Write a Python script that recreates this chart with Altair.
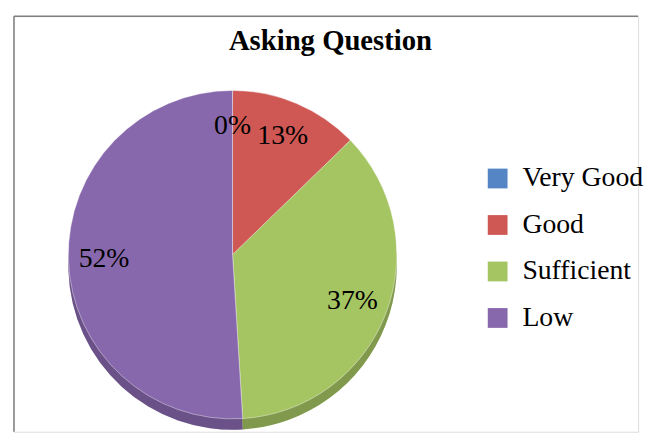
import altair as alt
import pandas as pd

categories = ["Very Good", "Good", "Sufficient", "Low"]
values = [0, 13, 37, 52]
labels = ["0%", "13%", "37%", "52%"]
title_text = ["Asking Question"]

face_colors = ["#5585C4", "#CF5854", "#A5C462", "#8868AD"]

SERIF = "Tinos"

df = pd.DataFrame({
    "category": categories,
    "value": values,
    "label": labels,
    "idx": list(range(len(categories))),
})
tdf = pd.DataFrame({"t": title_text})

W, H = 631, 420
CX, CY, R = 221, 241, 166
DEPTH = 11

color = alt.Color(
    "category:N",
    scale=alt.Scale(domain=categories, range=face_colors),
    legend=alt.Legend(
        title=None,
        orient="none",
        legendX=475,
        legendY=150,
        symbolType="square",
        symbolSize=400,
        symbolStrokeWidth=0,
        labelFont=SERIF,
        labelFontSize=28,
        labelLimit=300,
        labelOffset=11,
        rowPadding=19,
        padding=0,
    ),
)

base = alt.Chart(df).encode(
    theta=alt.Theta("value:Q", stack=True),
    order=alt.Order("idx:Q"),
)

shadow = base.mark_arc(outerRadius=R).encode(
    x=alt.value(CX), y=alt.value(CY + DEPTH), color=color
)
shadow_dark = base.mark_arc(outerRadius=R, fill="black", fillOpacity=0.22).encode(
    x=alt.value(CX), y=alt.value(CY + DEPTH)
)
face = base.mark_arc(outerRadius=R, stroke="white", strokeWidth=0.6, strokeOpacity=0.7).encode(
    x=alt.value(CX), y=alt.value(CY), color=color
)

text = base.mark_text(radius=130, font=SERIF, fontSize=28).encode(
    x=alt.value(CX),
    y=alt.value(CY),
    text="label:N",
)

title = alt.Chart(tdf).mark_text(
    font=SERIF, fontSize=29, fontWeight="bold", baseline="alphabetic"
).encode(x=alt.value(320), y=alt.value(34), text="t:N")

border_left = alt.Chart(tdf).mark_rule(color="#7f7f7f", strokeWidth=1.5).encode(
    x=alt.value(0), y=alt.value(0), y2=alt.value(H)
)
border_top = alt.Chart(tdf).mark_rule(color="#7f7f7f", strokeWidth=1.5).encode(
    y=alt.value(0), x=alt.value(0), x2=alt.value(W)
)

chart = alt.layer(
    border_left, border_top, shadow, shadow_dark, face, text, title
).properties(
    width=W,
    height=H,
)

chart.save("out.html", embed_options={"renderer": "svg", "actions": False})
